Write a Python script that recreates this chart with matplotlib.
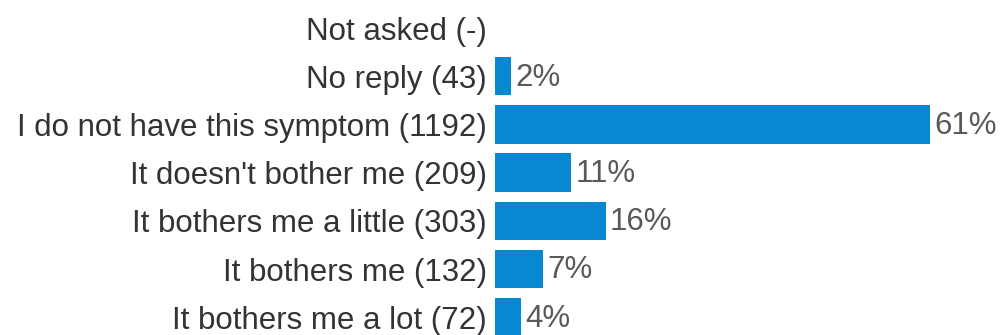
import matplotlib.pyplot as plt
import numpy as np

# Antwortkategorien (oben nach unten)
answers = ["Not asked", "No reply", "I do not have this symptom", "It doesn't bother me",
           "It bothers me a little", "It bothers me", "It bothers me a lot"]
counts = [None, 43, 1192, 209, 303, 132, 72]

total = sum(c for c in counts if c is not None)
labels = [f"{a} ({'-' if c is None else c})" for a, c in zip(answers, counts)]
shares = [0 if c is None else c / total * 100 for c in counts]

plt.rcParams['font.family'] = ['Liberation Sans', 'DejaVu Sans']

fig = plt.figure(figsize=(10.02, 3.35), dpi=100)
ax = fig.add_axes([0.494, 0, 0.506, 1])

y = np.arange(len(labels))
ax.barh(y, shares, height=0.8, color="#0788d1")

# Prozentwerte rechts neben den Balken
for yi, c, s in zip(y, counts, shares):
    if c is None:
        continue
    ax.text(s + 0.6, yi + 0.03, f"{round(s)}%", va="center", ha="left",
            fontsize=22.5, color="#595959")

ax.set_yticks(y)
ax.set_yticklabels(labels, fontsize=22.5, color="#333333")
ax.tick_params(axis="y", length=0, pad=6)
ax.set_xticks([])
ax.set_xlim(0, 71.2)
ax.set_ylim(6.369, -0.581)
for sp in ax.spines.values():
    sp.set_visible(False)

fig.savefig("out.png", dpi=100)
